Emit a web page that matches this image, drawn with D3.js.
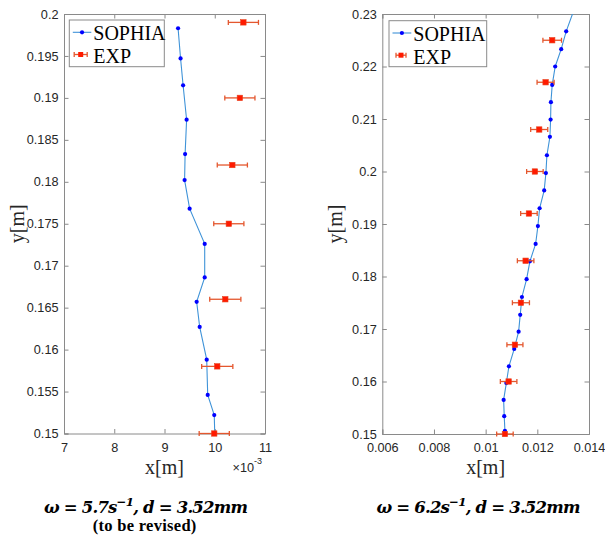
<!DOCTYPE html>
<html lang="en">
<head>
	<meta charset="UTF-8">
	<script src="https://cdnjs.cloudflare.com/ajax/libs/d3/7.8.5/d3.min.js"></script>
	<title>SOPHIA vs EXP</title>
	<style>
		body{ margin:0; background:#fff; }
		.tick_label{ font-family:"Liberation Sans", Arial, sans-serif; font-size:12.7px; fill:#262626; }
		.axis_label{ font-family:"Liberation Serif", "Times New Roman", serif; font-size:20px; fill:#262626; }
		.legend_text{ font-family:"Liberation Serif", "Times New Roman", serif; font-size:20px; fill:#000; }
		.caption{ font-family:"Liberation Serif", "Times New Roman", serif; font-weight:bold; fill:#000; }
		.math{ font-family:"DejaVu Serif", serif; font-weight:bold; font-style:italic; fill:#000; }
		.sophia{ fill:none; stroke:#3f93d8; stroke-width:1.1px; }
		.errbar{ stroke:#e4572e; stroke-width:1.3px; fill:none; }
	</style>
</head>
<body>
<script>
	// ---- data (metres) ----
	// left: omega = 5.7
	const sophiaA_y = [0.1500, 0.1522, 0.1546, 0.1588, 0.1627, 0.1657, 0.1686, 0.1726, 0.1768, 0.1802, 0.1833, 0.1874, 0.1915, 0.1947, 0.1983];
	const sophiaA_x = [0.01000, 0.00999, 0.00986, 0.00984, 0.00970, 0.00964, 0.00980, 0.00980, 0.00950, 0.00940, 0.00941, 0.00944, 0.00937, 0.00932, 0.00927];
	const expA_y = [0.150, 0.158, 0.166, 0.175, 0.182, 0.190, 0.199];
	const expA_x = [0.00999, 0.01005, 0.01021, 0.01028, 0.01035, 0.01050, 0.01057];
	const expA_err = [0.00030, 0.00031, 0.00031, 0.00030, 0.00030, 0.00030, 0.00030];
	const ticksA_x = [0.007, 0.008, 0.009, 0.010, 0.011];
	const ticksA_y = [0.15, 0.155, 0.16, 0.165, 0.17, 0.175, 0.18, 0.185, 0.19, 0.195, 0.2];

	// right: omega = 6.2
	const sophiaB_y = [0.1506, 0.1534, 0.1565, 0.1597, 0.1629, 0.1662, 0.1695, 0.1727, 0.1761, 0.1795, 0.1829, 0.1862, 0.1896,
		0.1930, 0.1964, 0.1997, 0.2031, 0.2066, 0.2099, 0.2132, 0.2165, 0.2200, 0.2233, 0.2267, 0.2335];
	const sophiaB_x = [0.010746, 0.010719, 0.010696, 0.01080, 0.010901, 0.011106, 0.011276, 0.011338, 0.011404, 0.011585, 0.011713, 0.011934, 0.012022,
		0.012088, 0.012266, 0.012332, 0.012371, 0.012487, 0.012514, 0.012526, 0.012576, 0.012692, 0.012924, 0.013117, 0.01362];
	const expB_y = [0.150, 0.160, 0.167, 0.175, 0.183, 0.192, 0.200, 0.208, 0.217, 0.225];
	const expB_x = [0.010746, 0.010889, 0.011133, 0.011365, 0.011547, 0.011675, 0.011906, 0.012073, 0.01232, 0.012576];
	const expB_err = [0.00032, 0.00032, 0.00031, 0.00033, 0.00032, 0.00032, 0.00032, 0.00033, 0.00033, 0.00036];
	const ticksB_x = [0.006, 0.008, 0.010, 0.012, 0.014];
	const ticksB_y = [0.15, 0.16, 0.17, 0.18, 0.19, 0.2, 0.21, 0.22, 0.23];

	const legendNames = ["SOPHIA", "EXP"];
	const xLabel = "x[m]", yLabel = "y[m]";

	const width = 605, height = 538;
	const svg = d3.select("body").append("svg")
		.attr("width", width)
		.attr("height", height);

	function zip(xs, ys, es){
		return xs.map(function (v, i){ return {x: v, y: ys[i], e: es ? es[i] : 0}; });
	}

	// widen a text to a target width with letter spacing
	function fitSpacing(t, target){
		const w = t.node().getComputedTextLength();
		const n = t.text().length;
		t.attr("letter-spacing", ((target - w) / n).toFixed(2));
	}

	function drawPanel(p){
		const x = d3.scaleLinear().domain(p.xDomain).range([p.left, p.right]);
		const y = d3.scaleLinear().domain(p.yDomain).range([p.bottom, p.top]);
		const g = svg.append("g");

		g.append("clipPath").attr("id", p.id)
			.append("rect")
			.attr("x", p.left).attr("y", p.top)
			.attr("width", p.right - p.left).attr("height", p.bottom - p.top);

		// axes with inward ticks on all four sides
		const axColor = "#8a8a8a", tk = 4.5;
		g.append("g").attr("transform", "translate(0," + p.bottom + ")")
			.call(d3.axisBottom(x).tickValues(p.xTicks).tickSize(-tk).tickFormat(p.xFmt));
		g.append("g").attr("transform", "translate(0," + p.top + ")")
			.call(d3.axisTop(x).tickValues(p.xTicks).tickSize(-tk).tickFormat(""));
		g.append("g").attr("transform", "translate(" + p.left + ",0)")
			.call(d3.axisLeft(y).tickValues(p.yTicks).tickSize(-tk).tickFormat(function (d){ return String(+d.toFixed(3)); }));
		g.append("g").attr("transform", "translate(" + p.right + ",0)")
			.call(d3.axisRight(y).tickValues(p.yTicks).tickSize(-tk).tickFormat(""));
		g.selectAll(".domain").attr("stroke", axColor).attr("stroke-width", 1);
		g.selectAll(".tick line").attr("stroke", axColor);
		g.selectAll(".tick text").attr("class", "tick_label").attr("fill", null).attr("font-size", null).attr("font-family", null);
		g.selectAll(".tick text").filter(function (){ return this.parentNode.parentNode.getAttribute("transform").indexOf("translate(0") === 0; })
			.attr("y", 9).attr("dy", "0.71em");
		g.selectAll("g").filter(function (){ return this.getAttribute("transform") === "translate(" + p.left + ",0)"; })
			.selectAll(".tick text").attr("x", -5.5);

		// SOPHIA line with dot markers
		const sophia = zip(p.sx, p.sy);
		const line = d3.line().x(function (d){ return x(d.x); }).y(function (d){ return y(d.y); });
		const plot = g.append("g").attr("clip-path", "url(#" + p.id + ")");
		plot.append("path").attr("class", "sophia").attr("d", line(sophia));
		plot.selectAll(".dot").data(sophia).enter().append("circle")
			.attr("class", "dot")
			.attr("cx", function (d){ return x(d.x); })
			.attr("cy", function (d){ return y(d.y); })
			.attr("r", 2.1)
			.attr("fill", "#0000ff");

		// EXP with horizontal error bars
		const exp = zip(p.ex, p.ey, p.ee);
		const eg = g.selectAll(".exp").data(exp).enter().append("g");
		eg.append("line").attr("class", "errbar")
			.attr("x1", function (d){ return x(d.x - d.e); }).attr("x2", function (d){ return x(d.x + d.e); })
			.attr("y1", function (d){ return y(d.y); }).attr("y2", function (d){ return y(d.y); });
		[-1, 1].forEach(function (s){
			eg.append("line").attr("class", "errbar")
				.attr("x1", function (d){ return x(d.x + s * d.e); }).attr("x2", function (d){ return x(d.x + s * d.e); })
				.attr("y1", function (d){ return y(d.y) - 2.5; }).attr("y2", function (d){ return y(d.y) + 2.5; });
		});
		eg.append("rect")
			.attr("x", function (d){ return x(d.x) - 2.7; })
			.attr("y", function (d){ return y(d.y) - 2.7; })
			.attr("width", 5.4).attr("height", 5.4)
			.attr("fill", "#ff1a00").attr("stroke", "#e8401c").attr("stroke-width", 0.6);

		// legend
		const L = p.legend;
		g.append("rect").attr("x", L.x).attr("y", L.y).attr("width", L.w).attr("height", L.h)
			.attr("fill", "#fff").attr("stroke", "#8a8a8a").attr("stroke-width", 1);
		g.append("line").attr("class", "sophia")
			.attr("x1", L.x + 3.5).attr("x2", L.textX - 2).attr("y1", L.y + 12.3).attr("y2", L.y + 12.3);
		g.append("circle").attr("cx", (L.x + 3.5 + L.textX - 2) / 2).attr("cy", L.y + 12.3).attr("r", 2.1).attr("fill", "#0000ff");
		const ecx = L.errX, ecy = L.y + 34.5, ew = L.errW;
		g.append("line").attr("class", "errbar").attr("x1", ecx - ew).attr("x2", ecx + ew).attr("y1", ecy).attr("y2", ecy);
		g.append("line").attr("class", "errbar").attr("x1", ecx - ew).attr("x2", ecx - ew).attr("y1", ecy - 2.5).attr("y2", ecy + 2.5);
		g.append("line").attr("class", "errbar").attr("x1", ecx + ew).attr("x2", ecx + ew).attr("y1", ecy - 2.5).attr("y2", ecy + 2.5);
		g.append("rect").attr("x", ecx - 2.5).attr("y", ecy - 2.5).attr("width", 5).attr("height", 5).attr("fill", "#ff1a00");
		g.selectAll(".legend_text").data(legendNames).enter().append("text")
			.attr("class", "legend_text")
			.attr("x", L.textX)
			.attr("y", function (d, i){ return L.y + 20 + i * 22.8; })
			.text(function (d){ return d; });

		// axis labels
		g.append("text").attr("class", "axis_label").attr("text-anchor", "middle")
			.attr("x", (p.left + p.right) / 2).attr("y", p.bottom + 40).text(xLabel);
		g.append("text").attr("class", "axis_label").attr("text-anchor", "middle")
			.attr("transform", "translate(" + (p.left - 40) + "," + ((p.top + p.bottom) / 2) + ") rotate(-90)")
			.text(yLabel);

		// caption
		const cap = svg.append("text").attr("class", "math")
			.attr("font-size", 16.5).attr("text-anchor", "middle")
			.attr("x", p.capX).attr("y", 513);
		cap.append("tspan").text("\u03c9 = " + p.omega);
		cap.append("tspan").text("s");
		cap.append("tspan").attr("dy", -7).attr("font-size", "0.72em").text("\u22121");
		cap.append("tspan").attr("dy", 7).text(", d = 3.52mm");
		fitSpacing(cap, 203);
		return {x: x, y: y};
	}

	drawPanel({
		id: "clipA", left: 64, right: 265, top: 14, bottom: 433.5,
		xDomain: [0.007, 0.011], yDomain: [0.15, 0.2],
		xTicks: ticksA_x, yTicks: ticksA_y,
		xFmt: function (d){ return String(Math.round(d * 1000)); },
		sx: sophiaA_x, sy: sophiaA_y, ex: expA_x, ey: expA_y, ee: expA_err,
		legend: {x: 69.3, y: 20, w: 95, h: 46.7, textX: 93.3, errX: 80.7, errW: 6.5},
		omega: "5.7", capX: 145.5
	});
	drawPanel({
		id: "clipB", left: 382.3, right: 589, top: 14, bottom: 434,
		xDomain: [0.006, 0.014], yDomain: [0.15, 0.23],
		xTicks: ticksB_x, yTicks: ticksB_y,
		xFmt: function (d){ return String(+d.toFixed(3)); },
		sx: sophiaB_x, sy: sophiaB_y, ex: expB_x, ey: expB_y, ee: expB_err,
		legend: {x: 389, y: 20.7, w: 97.7, h: 46, textX: 413.3, errX: 401, errW: 5},
		omega: "6.2", capX: 478
	});

	// x10^-3 exponent of the left x axis
	const ex = svg.append("text").attr("class", "tick_label").attr("x", 232.5).attr("y", 471.5).attr("fill", "#555");
	ex.append("tspan").text("\u00d710");
	ex.append("tspan").attr("dy", -7.5).attr("font-size", "9px").text("-3");

	// note under the left caption
	const note = svg.append("text").attr("class", "caption").attr("font-size", 16.5)
		.attr("text-anchor", "middle").attr("x", 144.7).attr("y", 531)
		.text("(to be revised)");
	fitSpacing(note, 104);
</script>
</body>
</html>
